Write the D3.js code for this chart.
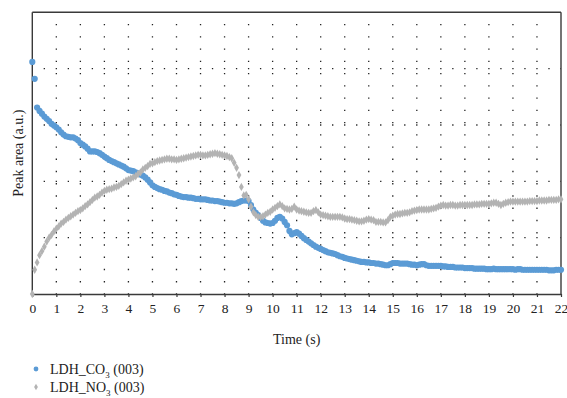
<!DOCTYPE html>
<html>
<head>
<meta charset="utf-8">
<script src="https://cdn.jsdelivr.net/npm/d3@7"></script>
<style>
  html, body { margin: 0; padding: 0; background: #fff; }
  svg { display: block; }
  text { font-family: "Liberation Serif", "Times New Roman", serif; fill: #222; }
</style>
</head>
<body>
<svg id="chart" width="567" height="398"></svg>
<script>
// ---- Data (time in seconds, peak area in arbitrary units) ----
const timeStart = 0, timeStep = 0.1;
const xTicks = d3.range(0, 23, 1);
const yTicks = [0, 1, 2, 3, 4, 5];

const co3Values = [
  4.12, 3.82, 3.31, 3.25, 3.20, 3.15, 3.11, 3.07, 3.02, 2.99,
  2.96, 2.92, 2.87, 2.83, 2.80, 2.79, 2.78, 2.78, 2.76, 2.73,
  2.68, 2.65, 2.62, 2.58, 2.53, 2.53, 2.53, 2.52, 2.50, 2.47,
  2.44, 2.41, 2.38, 2.36, 2.34, 2.32, 2.30, 2.28, 2.26, 2.23,
  2.20, 2.19, 2.18, 2.16, 2.14, 2.12, 2.10, 2.07, 2.03, 1.98,
  1.93, 1.90, 1.88, 1.86, 1.85, 1.83, 1.82, 1.80, 1.79, 1.77,
  1.76, 1.74, 1.73, 1.72, 1.72, 1.71, 1.71, 1.70, 1.69, 1.69,
  1.68, 1.68, 1.68, 1.67, 1.66, 1.66, 1.65, 1.65, 1.64, 1.63,
  1.62, 1.62, 1.61, 1.61, 1.60, 1.61, 1.63, 1.65, 1.66, 1.66,
  1.65, 1.58, 1.50, 1.44, 1.40, 1.35, 1.30, 1.27, 1.26, 1.25,
  1.26, 1.30, 1.35, 1.37, 1.34, 1.28, 1.22, 1.12, 1.06, 1.08,
  1.10, 1.07, 1.03, 0.99, 0.96, 0.93, 0.90, 0.87, 0.84, 0.82,
  0.80, 0.78, 0.76, 0.74, 0.73, 0.72, 0.71, 0.69, 0.67, 0.66,
  0.64, 0.63, 0.62, 0.61, 0.60, 0.59, 0.58, 0.57, 0.57, 0.56,
  0.56, 0.55, 0.55, 0.54, 0.54, 0.53, 0.52, 0.51, 0.51, 0.53,
  0.55, 0.55, 0.55, 0.54, 0.54, 0.54, 0.54, 0.53, 0.52, 0.52,
  0.51, 0.52, 0.53, 0.53, 0.51, 0.50, 0.50, 0.50, 0.50, 0.50,
  0.50, 0.49, 0.49, 0.48, 0.48, 0.48, 0.47, 0.47, 0.47, 0.47,
  0.46, 0.46, 0.46, 0.46, 0.45, 0.45, 0.45, 0.45, 0.45, 0.44,
  0.44, 0.44, 0.45, 0.44, 0.44, 0.44, 0.44, 0.44, 0.44, 0.44,
  0.44, 0.43, 0.44, 0.44, 0.43, 0.43, 0.43, 0.43, 0.43, 0.43,
  0.43, 0.43, 0.43, 0.43, 0.43, 0.42, 0.42, 0.42, 0.43, 0.43,
  0.43
];

const no3Values = [
  0.00, 0.43, 0.56, 0.69, 0.76, 0.84, 0.93, 1.00, 1.05, 1.11,
  1.16, 1.20, 1.25, 1.28, 1.32, 1.35, 1.38, 1.41, 1.44, 1.47,
  1.49, 1.52, 1.56, 1.59, 1.63, 1.67, 1.71, 1.73, 1.76, 1.80,
  1.83, 1.85, 1.86, 1.87, 1.89, 1.90, 1.92, 1.95, 1.98, 2.01,
  2.03, 2.05, 2.07, 2.09, 2.13, 2.16, 2.21, 2.24, 2.27, 2.31,
  2.32, 2.34, 2.36, 2.37, 2.38, 2.39, 2.40, 2.40, 2.39, 2.39,
  2.38, 2.39, 2.40, 2.41, 2.42, 2.43, 2.44, 2.45, 2.46, 2.47,
  2.47, 2.46, 2.46, 2.47, 2.48, 2.49, 2.50, 2.49, 2.48, 2.47,
  2.46, 2.45, 2.43, 2.41, 2.33, 2.24, 2.11, 1.90, 1.75, 1.76,
  1.68, 1.55, 1.45, 1.40, 1.37, 1.37, 1.38, 1.41, 1.44, 1.46,
  1.50, 1.53, 1.56, 1.59, 1.56, 1.52, 1.51, 1.50, 1.51, 1.55,
  1.50, 1.48, 1.47, 1.46, 1.45, 1.44, 1.44, 1.47, 1.49, 1.45,
  1.41, 1.40, 1.39, 1.38, 1.37, 1.37, 1.37, 1.37, 1.37, 1.36,
  1.34, 1.33, 1.33, 1.32, 1.31, 1.30, 1.29, 1.29, 1.30, 1.32,
  1.33, 1.32, 1.31, 1.28, 1.28, 1.28, 1.27, 1.27, 1.31, 1.37,
  1.39, 1.41, 1.42, 1.42, 1.43, 1.44, 1.44, 1.45, 1.47, 1.48,
  1.49, 1.50, 1.50, 1.50, 1.50, 1.50, 1.51, 1.52, 1.53, 1.55,
  1.57, 1.58, 1.57, 1.57, 1.58, 1.58, 1.57, 1.57, 1.58, 1.58,
  1.58, 1.58, 1.58, 1.58, 1.59, 1.59, 1.59, 1.60, 1.60, 1.60,
  1.60, 1.61, 1.62, 1.62, 1.60, 1.58, 1.60, 1.62, 1.63, 1.64,
  1.64, 1.64, 1.64, 1.64, 1.64, 1.64, 1.64, 1.65, 1.65, 1.65,
  1.65, 1.66, 1.66, 1.66, 1.66, 1.67, 1.67, 1.67, 1.67, 1.68,
  1.68
];

const seriesNames = ["LDH_CO", "LDH_NO"];
const seriesColors = ["#5b9bd5", "#b3b3b3"];

// ---- Layout ----
const svg = d3.select("#chart");
const x = d3.scaleLinear().domain([0, 22]).range([32.3, 561]);
const y = d3.scaleLinear().domain([0, 5]).range([294, 12.3]);

const tOf = i => +(timeStart + i * timeStep).toFixed(2);
const co3 = co3Values.map((v, i) => ({ t: tOf(i), v }));
const no3 = no3Values.map((v, i) => ({ t: tOf(i), v }));

// ---- Gridlines (dotted) ----
const grid = svg.append("g").attr("stroke", "#222").attr("stroke-width", 1.3);
const halfStep = (x(1) - x(0)) / 2;
grid.selectAll("line.h").data(yTicks.filter(d => d > 0 && d < 5)).join("line")
  .attr("x1", x(0)).attr("x2", x(22))
  .attr("y1", d => y(d)).attr("y2", d => y(d))
  .attr("stroke-dasharray", `1.3,${halfStep - 1.3}`)
  .attr("stroke-dashoffset", -halfStep + 0.65);
const vStep = (y(0) - y(5)) / 23;
grid.selectAll("line.v").data(xTicks.filter(d => d > 0 && d < 22)).join("line")
  .attr("x1", d => x(d)).attr("x2", d => x(d))
  .attr("y1", y(0)).attr("y2", y(5))
  .attr("stroke-dasharray", `1.3,${vStep - 1.3}`)
  .attr("stroke-dashoffset", -vStep + 0.65);

// ---- Frame ----
const frame = svg.append("g").attr("stroke", "#3a3a3a").attr("stroke-width", 1.4).attr("fill", "none");
frame.append("line").attr("x1", x(0)).attr("x2", x(22)).attr("y1", y(5)).attr("y2", y(5));
frame.append("line").attr("x1", x(22)).attr("x2", x(22)).attr("y1", y(5)).attr("y2", y(0));
frame.append("line").attr("x1", x(0)).attr("x2", x(0)).attr("y1", y(5)).attr("y2", y(0));

// ---- X axis ----
const xAxis = svg.append("g").attr("transform", `translate(0,${y(0)})`)
  .call(d3.axisBottom(x).tickValues(xTicks).tickFormat(d3.format("d")).tickSize(3).tickPadding(6).tickSizeOuter(0));
xAxis.select(".domain").attr("stroke", "#3a3a3a").attr("stroke-width", 1.4);
xAxis.selectAll(".tick line").attr("stroke", "#3a3a3a").attr("stroke-width", 1.2);
xAxis.selectAll(".tick text")
  .style("font-family", "'Liberation Serif', serif").style("font-size", "13.5px").attr("fill", "#222");

// ---- Axis titles ----
svg.append("text").attr("x", (x(0) + x(22)) / 2).attr("y", 344)
  .attr("text-anchor", "middle").style("font-size", "14px").text("Time (s)");
svg.append("text")
  .attr("transform", `translate(23,${(y(0) + y(5)) / 2}) rotate(-90)`)
  .attr("text-anchor", "middle").style("font-size", "14px").text("Peak area (a.u.)");

// ---- Series ----
svg.append("g").selectAll("circle").data(co3).join("circle")
  .attr("cx", d => x(d.t)).attr("cy", d => y(d.v)).attr("r", 3.1)
  .attr("fill", seriesColors[0]);

const diamond = d3.symbol().type(d3.symbolDiamond).size(20);
svg.append("g").selectAll("path").data(no3).join("path")
  .attr("transform", d => `translate(${x(d.t)},${y(d.v)})`)
  .attr("d", diamond).attr("fill", seriesColors[1]);

// ---- Legend ----
const legend = svg.append("g");
const legendRows = [
  { name: seriesNames[0], color: seriesColors[0], shape: "circle", yy: 369 },
  { name: seriesNames[1], color: seriesColors[1], shape: "diamond", yy: 387 }
];
legendRows.forEach(r => {
  if (r.shape === "circle") {
    legend.append("circle").attr("cx", 36).attr("cy", r.yy).attr("r", 2.4).attr("fill", r.color);
  } else {
    legend.append("path").attr("transform", `translate(36,${r.yy})`)
      .attr("d", d3.symbol().type(d3.symbolDiamond).size(12)).attr("fill", r.color);
  }
  const t = legend.append("text").attr("x", 50).attr("y", r.yy + 5).style("font-size", "14px");
  t.append("tspan").text(r.name);
  t.append("tspan").attr("dy", 3.5).style("font-size", "9px").text("3");
  t.append("tspan").attr("dy", -3.5).text(" (003)");
});
</script>
</body>
</html>
